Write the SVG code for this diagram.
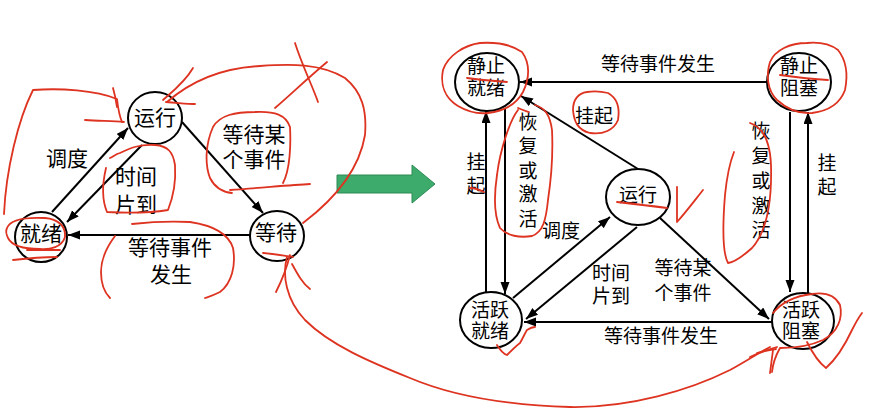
<svg xmlns="http://www.w3.org/2000/svg" width="870" height="415" viewBox="0 0 870 415">
<defs>
<marker id="ah" markerUnits="userSpaceOnUse" markerWidth="13" markerHeight="10" refX="12" refY="4.5" orient="auto">
<path d="M0,0 L12,4.5 L0,9 z" fill="#000"/>
</marker>
</defs>
<style>
.n{fill:#fff;stroke:#000;stroke-width:2}
.c{stroke:#000;stroke-width:2;fill:none;marker-end:url(#ah)}
.t{font-family:"Liberation Sans","Noto Sans CJK SC",sans-serif;fill:#000;text-anchor:middle}
.l{font-size:21px}
.r{font-size:19px}
.red{fill:none;stroke:#dd3320;stroke-width:1.8;stroke-linecap:round;stroke-linejoin:round}
</style>
<rect width="870" height="415" fill="#fff"/>

<g id="connectors">
<line class="c" x1="52" y1="212" x2="128" y2="128"/>
<line class="c" x1="142" y1="145" x2="67" y2="222"/>
<line class="c" x1="182" y1="122" x2="263" y2="213"/>
<line class="c" x1="250" y1="235" x2="68" y2="235"/>

<line class="c" x1="767" y1="82" x2="520" y2="82"/>
<line class="c" x1="486" y1="293" x2="486" y2="111"/>
<line class="c" x1="505" y1="108" x2="505" y2="294"/>
<line class="c" x1="790" y1="112" x2="790" y2="292"/>
<line class="c" x1="808" y1="295" x2="808" y2="112"/>
<line class="c" x1="638" y1="169" x2="521" y2="96"/>
<line class="c" x1="513" y1="298" x2="610" y2="217"/>
<line class="c" x1="637" y1="227" x2="526" y2="319"/>
<line class="c" x1="660" y1="218" x2="769" y2="319"/>
<line class="c" x1="772" y1="322" x2="524" y2="322"/>
</g>

<g id="labels">
<text class="t l" x="67" y="166">调度</text>
<text class="t l"><tspan x="136" y="184">时间</tspan><tspan x="136" y="212">片到</tspan></text>
<text class="t l"><tspan x="254" y="142">等待某</tspan><tspan x="254" y="167">个事件</tspan></text>
<text class="t l"><tspan x="170" y="255">等待事件</tspan><tspan x="171" y="282">发生</tspan></text>

<text class="t r" x="658" y="71">等待事件发生</text>
<text class="t r"><tspan x="476" y="169">挂</tspan><tspan x="476" y="193">起</tspan></text>
<text class="t r"><tspan x="528" y="129">恢</tspan><tspan x="528" y="153">复</tspan><tspan x="528" y="178">或</tspan><tspan x="528" y="201">激</tspan><tspan x="528" y="226">活</tspan></text>
<text class="t r" x="594" y="123">挂起</text>
<text class="t r" x="561" y="238">调度</text>
<text class="t r"><tspan x="611" y="280">时间</tspan><tspan x="611" y="303">片到</tspan></text>
<text class="t r"><tspan x="683" y="275">等待某</tspan><tspan x="683" y="300">个事件</tspan></text>
<text class="t r" x="661" y="343">等待事件发生</text>
<text class="t r"><tspan x="827" y="170">挂</tspan><tspan x="827" y="194">起</tspan></text>
<text class="t r"><tspan x="761" y="138">恢</tspan><tspan x="761" y="163">复</tspan><tspan x="761" y="188">或</tspan><tspan x="761" y="213">激</tspan><tspan x="761" y="237">活</tspan></text>
</g>

<g id="n-run-left"><ellipse class="n" cx="155" cy="118" rx="27" ry="26"/><text class="t l" x="155" y="125">运行</text></g>
<g id="n-ready-left"><ellipse class="n" cx="41" cy="237" rx="26" ry="25"/><text class="t l" x="41" y="241">就绪</text></g>
<g id="n-wait-left"><ellipse class="n" cx="277" cy="236" rx="27" ry="25"/><text class="t l" x="276" y="240">等待</text></g>

<g id="n-static-ready"><ellipse class="n" cx="487" cy="82" rx="32" ry="29"/><text class="t r"><tspan x="486" y="73">静止</tspan><tspan x="486" y="95">就绪</tspan></text></g>
<g id="n-static-blocked"><ellipse class="n" cx="799" cy="82" rx="32" ry="29"/><text class="t r"><tspan x="799" y="73">静止</tspan><tspan x="799" y="95">阻塞</tspan></text></g>
<g id="n-run-right"><ellipse class="n" cx="638" cy="197" rx="32" ry="28"/><text class="t r" x="638" y="202">运行</text></g>
<g id="n-active-ready"><ellipse class="n" cx="491" cy="320" rx="31" ry="28"/><text class="t r"><tspan x="490" y="317">活跃</tspan><tspan x="490" y="338">就绪</tspan></text></g>
<g id="n-active-blocked"><ellipse class="n" cx="803" cy="321" rx="31" ry="28"/><text class="t r"><tspan x="801" y="317">活跃</tspan><tspan x="801" y="338">阻塞</tspan></text></g>

<g id="green-arrow">
<path d="M337,175 L412,175 L412,165 L435,184 L412,203 L412,193 L337,193 z" fill="#3cab6c" stroke="#2d8a55" stroke-width="1"/>
</g>

<g id="annotations">
<path class="red" d="M4,214 C6,170 18,120 33,90 C60,88 95,90 117,99 C118,108 119,115 122,122"/>
<path class="red" d="M85,120 C100,121 112,121 124,122"/>
<path class="red" d="M113,88 C115,95 116,100 117,107"/>
<path class="red" d="M193,68 C185,82 172,92 163,100"/>
<path class="red" d="M166,102 C180,103 188,104 195,104"/>
<path class="red" d="M167,102 C190,82 220,68 260,66 C290,64 320,63 345,78 C362,92 367,110 365,135 C360,165 340,195 303,223"/>
<path class="red" d="M295,43 C302,65 312,85 318,102"/>
<path class="red" d="M327,62 C308,78 290,95 275,108"/>
<path class="red" d="M283,183 C290,170 291,145 290,127 C286,115 275,111 255,112 C235,112 220,115 213,127 C205,145 205,165 210,178 C215,188 222,192 232,193"/>
<path class="red" d="M230,190 C260,188 290,185 310,184"/>
<path class="red" d="M110,158 C114,156 116,154 120,153 C130,148 140,144 155,145 C168,146 173,152 175,165 C176,180 174,195 168,210 C150,213 125,213 107,212 C102,200 102,185 106,168"/>
<path class="red" d="M7,228 C10,220 25,217 45,218 C58,219 66,226 65,237 C62,247 50,250 40,249 C25,249 12,246 8,238 C6,234 6,230 7,228"/>
<path class="red" d="M13,260 C30,258 45,257 57,257"/>
<path class="red" d="M27,250 C40,250 50,250 60,250"/>
<path class="red" d="M132,224 C150,222 172,221 190,222 C210,225 228,232 233,248 C236,265 232,283 220,292 C212,296 208,297 205,298"/>
<path class="red" d="M115,236 C106,248 101,260 101,272 C101,283 104,292 110,298"/>
<path class="red" d="M263,253 C275,254 285,256 293,257"/>
<path class="red" d="M290,255 C287,267 282,280 276,292"/>
<path class="red" d="M292,264 C298,275 303,284 310,289"/>
<path class="red" d="M287,257 C282,275 286,300 305,320 C330,345 370,362 410,378 C450,395 500,405 570,407 C630,408 690,390 730,370 C748,360 760,352 770,347"/>
<path class="red" d="M750,357 C760,352 768,350 777,347"/>
<path class="red" d="M773,350 C772,358 771,365 770,373"/>
<path class="red" d="M757,353 C763,351 770,350 776,349"/>

<path class="red" d="M480,43 C465,45 448,55 443,70 C440,85 445,98 458,106 C468,112 478,114 488,113 C505,111 517,103 523,92 C530,78 530,63 522,52 C512,45 496,42 480,43"/>
<path class="red" d="M467,78 C480,80 495,81 507,82"/>
<path class="red" d="M470,188 C476,188 480,190 484,192"/>
<path class="red" d="M518,110 C510,120 500,150 497,175 C494,195 494,215 500,228 C507,236 520,238 532,236 C543,232 546,220 548,200 C551,180 553,150 552,130 C550,115 545,108 535,105"/>
<path class="red" d="M518,108 C522,110 526,111 529,112"/>
<path class="red" d="M587,92 C578,93 573,100 573,110 C574,122 578,130 590,133 C603,135 614,130 618,120 C620,108 617,98 608,93 C600,91 593,91 587,92"/>
<path class="red" d="M617,202 C635,204 652,206 667,208"/>
<path class="red" d="M677,187 C677,198 677,210 677,222 C686,212 695,200 703,190"/>
<path class="red" d="M750,123 C762,127 770,140 771,165 C772,200 768,230 752,248 C742,257 735,262 728,263 C722,252 723,220 725,195 C727,175 730,162 734,152"/>
<path class="red" d="M807,43 C790,43 775,50 770,62 C766,75 767,90 777,100 C788,110 800,114 812,113 C828,111 840,104 845,90 C848,75 846,60 838,50 C830,44 818,42 807,43"/>
<path class="red" d="M780,75 C795,77 812,79 828,80"/>
<path class="red" d="M497,345 C500,350 504,354 507,355 C512,350 516,346 520,343 C523,338 525,333 527,330 C530,328 532,327 535,327"/>
<path class="red" d="M773,313 C782,302 795,296 812,294 C825,292 835,295 840,305 C843,318 838,332 823,340 C810,346 795,348 780,348 C776,355 773,362 772,372"/>
<path class="red" d="M807,342 C812,352 818,362 826,368 C835,360 845,345 852,330 C856,322 859,317 862,313"/>
</g>
</svg>
